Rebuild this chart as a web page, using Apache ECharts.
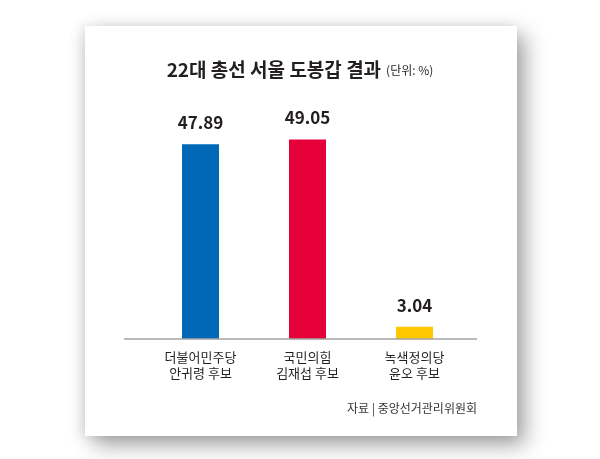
<!DOCTYPE html>
<html>
<head>
<meta charset="utf-8">
<script src="https://cdn.jsdelivr.net/npm/echarts@6/dist/echarts.min.js"></script>
<style>
  html, body { margin: 0; padding: 0; background: #ffffff; }
  #card { position: absolute; left: 85px; top: 26px; width: 432px; height: 410px; background: #fff;
          box-shadow: 8px 9px 20px rgba(0,0,0,0.36), -4px 0 12px rgba(0,0,0,0.10); }
  #chart { position: absolute; left: 0; top: 0; width: 600px; height: 459px; }
</style>
</head>
<body>
<div id="card"></div>
<div id="chart"></div>
<script>
const categories = ['더불어민주당\n안귀령 후보', '국민의힘\n김재섭 후보', '녹색정의당\n윤오 후보'];
const values = [47.89, 49.05, 3.04];
const barColors = ['#0068b7', '#e60039', '#ffc800'];
const titleMain = '22대 총선 서울 도봉갑 결과';
const titleUnit = '(단위: %)';
const sourceText = '자료 | 중앙선거관리위원회';

const FONT = '"Noto Sans CJK KR", "Noto Sans", sans-serif';
const chart = echarts.init(document.getElementById('chart'));
chart.setOption({
  backgroundColor: 'transparent',
  animation: false,
  title: {
    text: '{a|' + titleMain + '} {b|' + titleUnit + '}',
    left: 'center',
    top: 55,
    textStyle: {
      rich: {
        a: { fontFamily: FONT, fontSize: 19, fontWeight: 'bold', color: '#231f20' },
        b: { fontFamily: FONT, fontSize: 12, fontWeight: 'normal', color: '#231f20', padding: [2, 0, 0, 0] }
      }
    }
  },
  grid: { left: 147, width: 321, top: 95, bottom: 120 },
  xAxis: {
    type: 'category',
    data: categories,
    axisLine: { show: false },
    axisTick: { show: false },
    axisLabel: { margin: 10, fontFamily: FONT, fontSize: 13, lineHeight: 16, color: '#231f20', align: 'center' }
  },
  yAxis: { type: 'value', min: 0, max: 60, show: false, splitLine: { show: false } },
  series: [{
    type: 'bar',
    barWidth: 37,
    data: values.map((v, i) => ({ value: v, itemStyle: { color: barColors[i] } })),
    label: {
      show: true, position: 'top', distance: 13,
      fontFamily: FONT, fontSize: 17, fontWeight: 'bold', color: '#231f20',
      formatter: p => p.value.toFixed(2)
    }
  }],
  graphic: [
    { type: 'line', shape: { x1: 124, y1: 339, x2: 477, y2: 339 },
      style: { stroke: '#a3a3a3', lineWidth: 1.5 }, z: 10 },
    { type: 'text', x: 477, y: 408,
      style: { text: sourceText, align: 'right', verticalAlign: 'middle',
               font: '12px ' + FONT, fill: '#333333' } }
  ]
});
</script>
</body>
</html>
